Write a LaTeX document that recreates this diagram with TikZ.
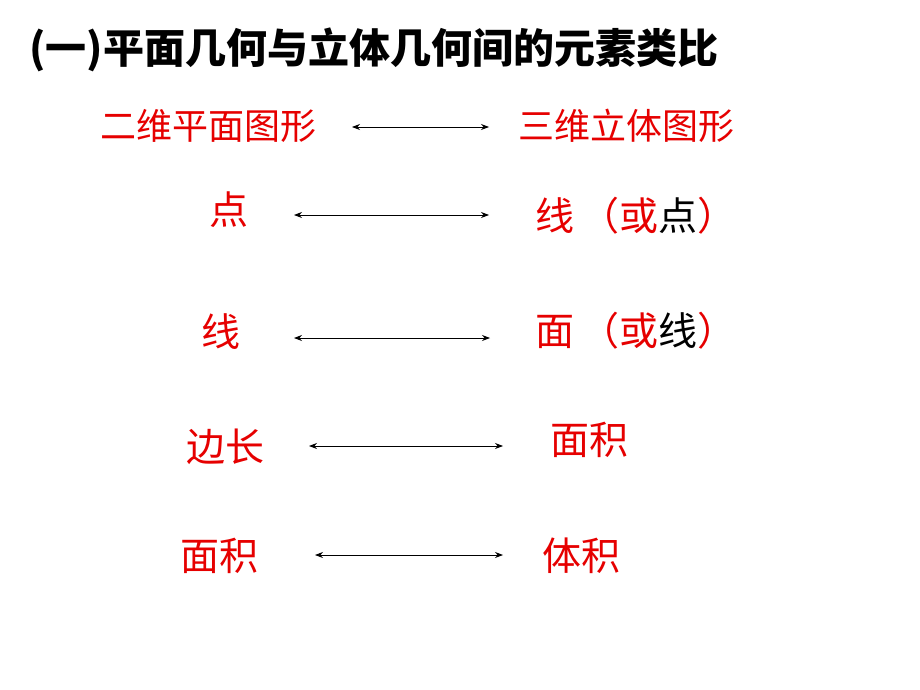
\documentclass[tikz,border=0pt]{standalone}
\usepackage{fontspec}
\newfontfamily\cjk{Noto Sans CJK SC}
\usetikzlibrary{arrows.meta}
\definecolor{txtred}{RGB}{230,0,0}
\tikzset{
  lbl/.style={anchor=west, inner sep=0pt, text=txtred, font=\cjk\fontsize{39}{42}\selectfont},
  hdr/.style={anchor=west, inner sep=0pt, text=txtred, font=\cjk\fontsize{36}{40}\selectfont},
  link/.style={{Stealth[length=8pt,width=6pt]}-{Stealth[length=8pt,width=6pt]}, line width=0.8pt, black},
}
\begin{document}
\begin{tikzpicture}[x=1pt,y=-1pt]
\useasboundingbox[fill=white] (0,0) rectangle (920,690);
\node[anchor=west, inner sep=0pt, font=\cjk\bfseries\fontsize{41}{44}\selectfont] (title) at (29,50) {(一)平面几何与立体几何间的元素类比};
% row 1
\node[hdr] (h1) at (100,126) {二维平面图形};
\node[hdr] (h2) at (518,126) {三维立体图形};
\coordinate (a1l) at (352,127); \coordinate (a1r) at (489,127);
\draw[link] (a1l) -- (a1r);
% row 2
\node[lbl] (p1) at (209,210) {点};
\node[lbl] (p2) at (535,216) {线\,（或\textcolor{black}{点}）};
\coordinate (a2l) at (294,215); \coordinate (a2r) at (489,215);
\draw[link] (a2l) -- (a2r);
% row 3
\node[lbl] (l1) at (201,332) {线};
\node[lbl] (l2) at (535,331) {面\,（或\textcolor{black}{线}）};
\coordinate (a3l) at (294,338); \coordinate (a3r) at (490,338);
\draw[link] (a3l) -- (a3r);
% row 4
\node[lbl] (e1) at (186,447) {边长};
\node[lbl] (e2) at (550,440) {面积};
\coordinate (a4l) at (309,446); \coordinate (a4r) at (503,446);
\draw[link] (a4l) -- (a4r);
% row 5
\node[lbl] (s1) at (180,556) {面积};
\node[lbl] (s2) at (542,556) {体积};
\coordinate (a5l) at (315,555); \coordinate (a5r) at (503,555);
\draw[link] (a5l) -- (a5r);
\end{tikzpicture}
\end{document}
